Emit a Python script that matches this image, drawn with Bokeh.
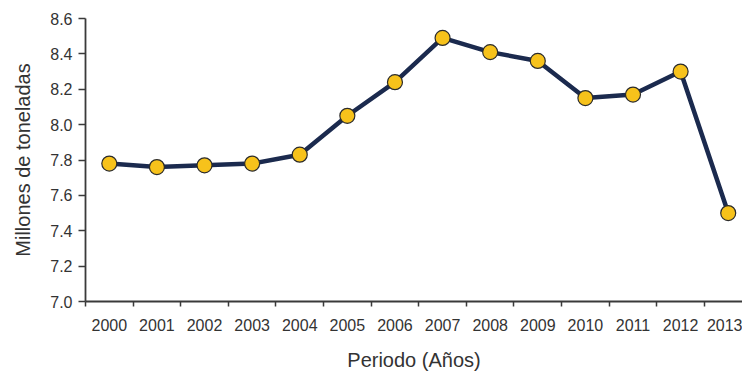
from bokeh.plotting import figure
from bokeh.models import FixedTicker, Range1d, ColumnDataSource, PrintfTickFormatter
from bokeh.embed import file_html
from bokeh.resources import INLINE

# Annual production, millions of tonnes
years = ["2000", "2001", "2002", "2003", "2004", "2005", "2006",
         "2007", "2008", "2009", "2010", "2011", "2012", "2013"]
values = [7.78, 7.76, 7.77, 7.78, 7.83, 8.05, 8.24,
          8.49, 8.41, 8.36, 8.15, 8.17, 8.30, 7.50]
y_ticks = [7.0, 7.2, 7.4, 7.6, 7.8, 8.0, 8.2, 8.4, 8.6]

# each year sits in the middle of its own unit-wide slot
xpos = [i + 0.5 for i in range(len(years))]
src = ColumnDataSource(data=dict(x=xpos, y=values, year=years))

FONT = "Liberation Sans"
TEXT = "#333333"
AXIS = "#3a3a3a"

p = figure(width=742, height=373, output_backend="svg", toolbar_location=None,
           x_range=Range1d(0, 13.80), y_range=Range1d(7.0, 8.6),
           min_border_left=85, min_border_right=0,
           min_border_top=18, min_border_bottom=72)
p.outline_line_color = None
p.xgrid.visible = False
p.ygrid.visible = False
p.background_fill_color = "white"
p.border_fill_color = "white"

p.line("x", "y", source=src, line_color="#1b2a4e", line_width=4.5)
p.scatter("x", "y", source=src, size=15, fill_color="#f7c21b",
          line_color="#2b2b2b", line_width=1.2)

# x axis: tick marks between years, labels centred on each year
xa = p.xaxis[0]
xa.ticker = FixedTicker(ticks=xpos, minor_ticks=list(range(len(years) + 1)))
xa.major_label_overrides = {x: y for x, y in zip(xpos, years)}
xa.major_tick_line_color = None
xa.major_tick_out = 0
xa.major_tick_in = 0
xa.minor_tick_line_color = AXIS
xa.minor_tick_line_width = 1.5
xa.minor_tick_out = 5
xa.minor_tick_in = 0
xa.major_label_standoff = 12
xa.axis_label = "Periodo (Años)"
xa.axis_label_standoff = 15

ya = p.yaxis[0]
ya.ticker = FixedTicker(ticks=y_ticks)
ya.formatter = PrintfTickFormatter(format="%.1f")
ya.major_tick_out = 7
ya.major_tick_in = 0
ya.major_tick_line_color = AXIS
ya.major_tick_line_width = 1.5
ya.minor_tick_line_color = None
ya.major_label_standoff = 6
ya.axis_label = "Millones de toneladas"
ya.axis_label_standoff = 13

for ax in (xa, ya):
    ax.axis_line_color = AXIS
    ax.axis_line_width = 1.8
    ax.major_label_text_font = FONT
    ax.major_label_text_font_size = "16px"
    ax.major_label_text_color = TEXT
    ax.axis_label_text_font = FONT
    ax.axis_label_text_font_size = "20px"
    ax.axis_label_text_font_style = "normal"
    ax.axis_label_text_color = TEXT

open("out.html", "w").write(file_html(p, INLINE))
